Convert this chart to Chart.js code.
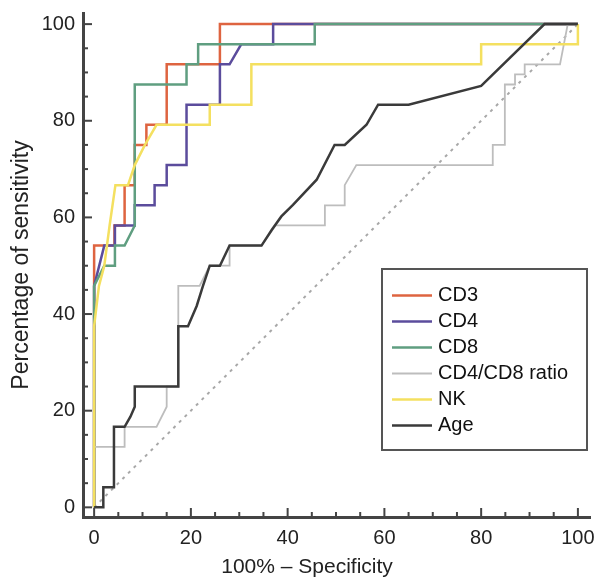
<!DOCTYPE html>
<html>
<head>
<meta charset="utf-8">
<title>ROC curves</title>
<script src="https://cdn.jsdelivr.net/npm/chart.js@4.4.0/dist/chart.umd.min.js"></script>
<style>
  body { margin: 0; background: #fff; }
  #wrap { width: 598px; height: 581px; }
</style>
</head>
<body>
<div id="wrap"><canvas id="roc" width="598" height="581"></canvas></div>
<script>
// series names and colours (legend order)
const seriesNames = ['CD3', 'CD4', 'CD8', 'CD4/CD8 ratio', 'NK', 'Age'];
const seriesColors = ['#de6440', '#5b4c9c', '#5f9e80', '#bdbdbd', '#f4e060', '#3a3a3a'];

// 100% - specificity (x) and sensitivity (y) for each curve
const cd3Spec = [0, 0, 2.1, 4.2, 4.2, 6.3, 6.3, 8.4, 8.4, 10.8, 10.8, 15, 15, 26, 26, 100];
const cd3Sens = [0, 54.17, 54.17, 54.17, 58.33, 58.33, 66.67, 66.67, 75, 75, 79.17, 79.17, 91.67, 91.67, 100, 100];

const cd4Spec = [0, 0, 2.1, 4.3, 4.3, 8.4, 8.4, 12.5, 12.5, 15, 15, 19.1, 19.1, 26, 26, 28, 30.4, 37, 37, 100];
const cd4Sens = [0, 45.83, 54.17, 54.17, 58.33, 58.33, 62.5, 62.5, 66.67, 66.67, 70.83, 70.83, 83.33, 83.33, 91.67, 91.67, 95.83, 95.83, 100, 100];

const cd8Spec = [0, 0, 2.1, 4.3, 4.3, 6.3, 8.4, 8.4, 19.1, 19.1, 21.5, 21.5, 45.6, 45.6, 100];
const cd8Sens = [0, 45.83, 50, 50, 54.17, 54.17, 58.33, 87.5, 87.5, 91.67, 91.67, 95.83, 95.83, 100, 100];

const ratioSpec = [0, 0, 6.3, 6.3, 12.9, 15, 15, 17.4, 17.4, 21.8, 23.9, 28, 28, 34.6, 37.5, 47.7, 47.7, 51.8, 51.8, 54.2, 82.4, 82.4, 84.9, 84.9, 87, 87, 89, 89, 96.3, 97.9, 100];
const ratioSens = [0, 12.5, 12.5, 16.67, 16.67, 20.83, 25, 25, 45.83, 45.83, 50, 50, 54.17, 54.17, 58.33, 58.33, 62.5, 62.5, 66.67, 70.83, 70.83, 75, 75, 87.5, 87.5, 89.6, 89.6, 91.67, 91.67, 100, 100];

const nkSpec = [0, 0, 1, 2.1, 3.2, 4.4, 7, 8.4, 10.5, 12.9, 23.9, 23.9, 32.5, 32.5, 80, 80, 100, 100];
const nkSens = [0, 37.5, 45.83, 50, 58.33, 66.67, 66.67, 70.83, 75, 79.17, 79.17, 83.33, 83.33, 91.67, 91.67, 95.83, 95.83, 100];

const ageSpec = [0, 1.9, 1.9, 4.1, 4.1, 6.3, 7.5, 8.4, 8.4, 17.4, 17.4, 19.4, 21.2, 22.5, 23.9, 26, 28, 34.6, 36.7, 38.7, 41.1, 46, 49.7, 51.8, 56.3, 58.7, 65, 80, 93.1, 100];
const ageSens = [0, 0, 4.17, 4.17, 16.67, 16.67, 18.75, 20.83, 25, 25, 37.5, 37.5, 41.67, 45.83, 50, 50, 54.17, 54.17, 57.4, 60.2, 62.6, 67.8, 75, 75, 79.17, 83.33, 83.33, 87.2, 100, 100];

// chance line
const chanceSpec = [0, 100];
const chanceSens = [0, 100];

const tickLabels = [0, 20, 40, 60, 80, 100];
const xTitle = '100% – Specificity';
const yTitle = 'Percentage of sensitivity';

const pts = (xs, ys) => xs.map((x, i) => ({ x: x, y: ys[i] }));

const curves = [
    pts(cd3Spec, cd3Sens),
    pts(cd4Spec, cd4Sens),
    pts(cd8Spec, cd8Sens),
    pts(ratioSpec, ratioSens),
    pts(nkSpec, nkSens),
    pts(ageSpec, ageSens)
];

const datasets = curves.map((data, i) => ({
    label: seriesNames[i],
    data: data,
    borderColor: seriesColors[i],
    borderWidth: i === 3 ? 1.8 : 2.5,
    pointRadius: 0,
    tension: 0,
    fill: false,
    order: seriesNames.length - i   // later series drawn on top
}));

datasets.push({
    label: 'chance',
    data: pts(chanceSpec, chanceSens),
    borderColor: '#a8a8a8',
    borderWidth: 2,
    borderDash: [3, 5],
    pointRadius: 0,
    fill: false,
    order: 10
});

// inward tick marks, long every 20, short every 5
const tickMarks = {
    id: 'tickMarks',
    afterDraw(chart) {
        const { ctx, chartArea: { left, bottom }, scales: { x, y } } = chart;
        ctx.save();
        ctx.strokeStyle = '#444';
        ctx.lineWidth = 2;
        for (let v = 0; v <= 100; v += 5) {
            const len = tickLabels.includes(v) ? 9 : 5;
            const px = x.getPixelForValue(v);
            ctx.beginPath();
            ctx.moveTo(px, bottom);
            ctx.lineTo(px, bottom - len);
            ctx.stroke();
            const py = y.getPixelForValue(v);
            ctx.beginPath();
            ctx.moveTo(left, py);
            ctx.lineTo(left + len, py);
            ctx.stroke();
        }
        ctx.restore();
    }
};

// x axis title sits a bit left of the plot centre in the original
const xAxisTitle = {
    id: 'xAxisTitle',
    afterDraw(chart) {
        const ctx = chart.ctx;
        ctx.save();
        ctx.font = '21px "Liberation Sans", Arial, sans-serif';
        ctx.fillStyle = '#222';
        ctx.textAlign = 'center';
        ctx.textBaseline = 'middle';
        ctx.fillText(xTitle, 307, chart.scales.x.bottom - 14);
        ctx.restore();
    }
};

// boxed legend in lower right
const legendBox = {
    id: 'legendBox',
    afterDraw(chart) {
        const ctx = chart.ctx;
        const bx = 382, by = 269, bw = 205, bh = 181;
        ctx.save();
        ctx.fillStyle = '#fff';
        ctx.fillRect(bx, by, bw, bh);
        ctx.strokeStyle = '#555';
        ctx.lineWidth = 2;
        ctx.strokeRect(bx, by, bw, bh);
        ctx.font = '20px "Liberation Sans", Arial, sans-serif';
        ctx.textBaseline = 'middle';
        seriesNames.forEach((name, i) => {
            const yy = by + 26.5 + i * 26;
            ctx.strokeStyle = seriesColors[i];
            ctx.lineWidth = i === 3 ? 1.8 : 2.5;
            ctx.beginPath();
            ctx.moveTo(bx + 10, yy);
            ctx.lineTo(bx + 50, yy);
            ctx.stroke();
            ctx.fillStyle = '#111';
            ctx.fillText(name, bx + 56, yy);
        });
        ctx.restore();
    }
};

// no extra room for overhanging tick labels: plot box is fixed by layout padding
const noOverhang = s => {
    s.paddingTop = 0;
    s.paddingBottom = 0;
    s.paddingLeft = 0;
    s.paddingRight = 0;
};

Chart.defaults.font.family = '"Liberation Sans", Arial, sans-serif';
Chart.defaults.color = '#222';

new Chart(document.getElementById('roc'), {
    type: 'line',
    data: { datasets },
    options: {
        responsive: false,
        animation: false,
        layout: { padding: { top: 13, right: 8, left: 0, bottom: 0 } },
        plugins: {
            legend: { display: false },
            tooltip: { enabled: false }
        },
        scales: {
            x: {
                type: 'linear',
                min: -2.3,
                max: 102.5,
                grid: { display: false, drawTicks: false },
                border: { color: '#444', width: 3 },
                ticks: { stepSize: 20, includeBounds: false, padding: 9, font: { size: 20 } },
                title: { display: false },
                afterFit: s => { s.height = 64; noOverhang(s); }
            },
            y: {
                type: 'linear',
                min: -2,
                max: 102.3,
                grid: { display: false, drawTicks: false },
                border: { color: '#444', width: 3 },
                ticks: { stepSize: 20, includeBounds: false, padding: 8, font: { size: 20 } },
                title: {
                    display: true,
                    text: yTitle,
                    font: { size: 23 },
                    padding: { top: 8, bottom: 0 }
                },
                afterFit: s => { s.width = 83; noOverhang(s); }
            }
        }
    },
    plugins: [tickMarks, xAxisTitle, legendBox]
});
</script>
</body>
</html>
